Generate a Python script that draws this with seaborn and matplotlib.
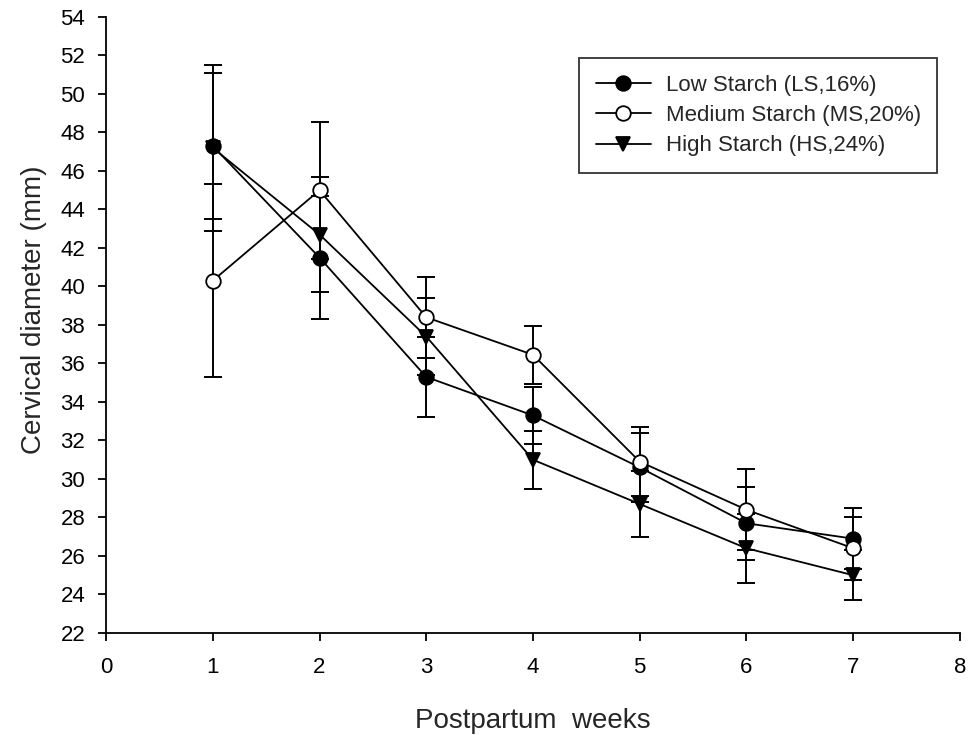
import numpy as np
import pandas as pd
import matplotlib
matplotlib.use("Agg")
import matplotlib.pyplot as plt
import seaborn as sns

weeks = [1, 2, 3, 4, 5, 6, 7]

ls_mean = [47.3, 41.5, 35.3, 33.3, 30.6, 27.7, 26.9]
ls_err = [3.8, 3.2, 2.1, 1.5, 1.8, 1.9, 1.6]

ms_mean = [40.3, 45.0, 38.4, 36.45, 30.9, 28.4, 26.4]
ms_err = [5.0, 3.55, 2.1, 1.5, 1.8, 2.1, 1.65]

hs_mean = [47.2, 42.7, 37.4, 31.0, 28.7, 26.4, 25.0]
hs_err = [4.3, 3.0, 2.0, 1.5, 1.7, 1.8, 1.3]

labels = ["Low Starch (LS,16%)", "Medium Starch (MS,20%)", "High Starch (HS,24%)"]

sns.set_style("ticks")
plt.rcParams['font.family'] = ['Liberation Sans', 'DejaVu Sans']

df = pd.DataFrame({
    "week": weeks * 3,
    "diameter": ls_mean + ms_mean + hs_mean,
    "err": ls_err + ms_err + hs_err,
    "group": [labels[0]] * 7 + [labels[1]] * 7 + [labels[2]] * 7,
})

fig = plt.figure(figsize=(9.69, 7.35), dpi=100)
ax = fig.add_axes([0.1094, 0.1388, 0.8813, 0.8381])

styles = {
    labels[0]: dict(marker="o", mfc="black"),
    labels[1]: dict(marker="o", mfc="white"),
    labels[2]: dict(marker="v", mfc="black"),
}

for g in labels:
    sub = df[df["group"] == g]
    ax.errorbar(sub["week"], sub["diameter"], yerr=sub["err"], fmt="none",
                ecolor="black", elinewidth=1.4, capsize=6.5, capthick=1.4, zorder=2)

for g in labels:
    sub = df[df["group"] == g]
    st = styles[g]
    sns.lineplot(data=sub, x="week", y="diameter", ax=ax, color="black",
                 linewidth=1.3, marker=st["marker"], markersize=10.5,
                 markerfacecolor=st["mfc"], markeredgecolor="black",
                 markeredgewidth=1.3, label=g, zorder=3)

ax.set_xlim(0, 8)
ax.set_ylim(22, 54)
ax.set_xticks(range(0, 9))
ax.set_yticks(range(22, 55, 2))
ax.tick_params(axis="both", labelsize=16, direction="out", length=6, width=1.3, colors="black")
ax.tick_params(axis="x", pad=11)
ax.tick_params(axis="y", pad=9)
for s in ["left", "bottom"]:
    ax.spines[s].set_linewidth(1.3)
    ax.spines[s].set_color("black")
sns.despine(ax=ax)

ax.set_xlabel("Postpartum  weeks", fontsize=20)
ax.set_ylabel("Cervical diameter (mm)", fontsize=20)
ax.xaxis.set_label_coords(0.5, -0.121)
ax.yaxis.set_label_coords(-0.069, 0.524)

leg = ax.legend(loc="upper left", bbox_to_anchor=(579 / 969, 1 - 58 / 735),
                bbox_transform=fig.transFigure, borderaxespad=0, fontsize=16,
                frameon=True, fancybox=False, edgecolor="black",
                handlelength=2.5, borderpad=0.75, labelspacing=0.42, handletextpad=0.65)
leg.get_frame().set_linewidth(1.3)

fig.savefig("out.png", dpi=100)
